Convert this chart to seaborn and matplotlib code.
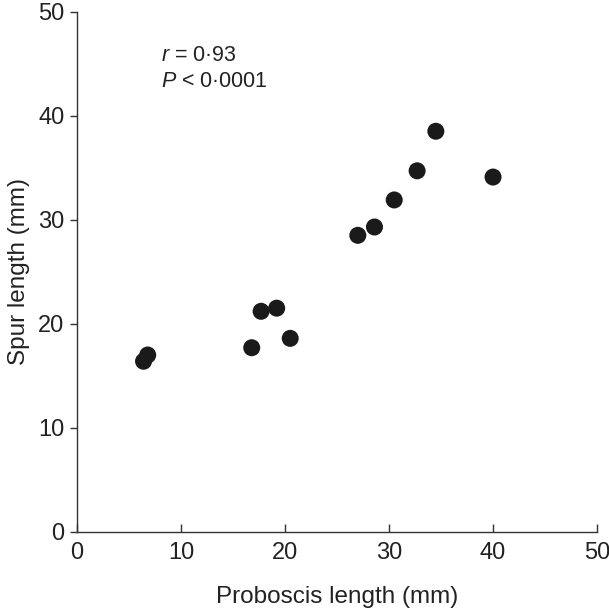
import seaborn as sns
import matplotlib.pyplot as plt
import pandas as pd

proboscis = [6.4, 6.8, 16.8, 17.7, 19.2, 20.5, 27.0, 28.6, 30.5, 32.7, 34.5, 40.0]
spur = [16.4, 17.0, 17.7, 21.2, 21.5, 18.6, 28.5, 29.3, 31.9, 34.7, 38.5, 34.1]

df = pd.DataFrame({'proboscis': proboscis, 'spur': spur})

sns.set_style('ticks')
plt.rcParams['font.family'] = ['Liberation Sans', 'DejaVu Sans']
plt.rcParams['mathtext.fontset'] = 'custom'
plt.rcParams['mathtext.it'] = 'Liberation Sans:italic'
plt.rcParams['mathtext.rm'] = 'Liberation Sans'

fig = plt.figure(figsize=(6.09, 6.10), dpi=100)
ax = fig.add_axes([0.1264, 0.128, 0.854, 0.853])

sns.scatterplot(data=df, x='proboscis', y='spur', ax=ax,
                s=150, color='#1a1a1a', edgecolor='none')

ax.set_xlim(0, 50)
ax.set_ylim(0, 50)
ax.set_xticks([0, 10, 20, 30, 40, 50])
ax.set_yticks([0, 10, 20, 30, 40, 50])
sns.despine(ax=ax)
for sp in ['left', 'bottom']:
    ax.spines[sp].set_linewidth(1.0)
    ax.spines[sp].set_color('#333333')

ax.tick_params(axis='x', direction='in', length=6, width=1, labelsize=17,
               pad=7, colors='#333333', labelcolor='#222222')
ax.tick_params(axis='y', direction='out', length=5, width=1, labelsize=17,
               pad=4, colors='#333333', labelcolor='#222222')

ax.set_xlabel('Proboscis length (mm)', fontsize=17.5, color='#222222', labelpad=16)
ax.set_ylabel('Spur length (mm)', fontsize=17.5, color='#222222', labelpad=6)

ax.text(8.1, 45.8, r'$\it{r}$ = 0·93', fontsize=15.5, va='center', ha='left', color='#222222')
ax.text(8.1, 43.3, r'$\it{P}$ < 0·0001', fontsize=15.5, va='center', ha='left', color='#222222')

fig.savefig('out.png', dpi=100)
